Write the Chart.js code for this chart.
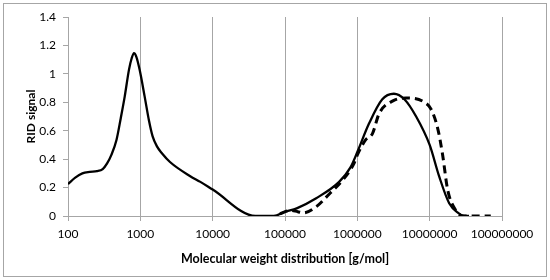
<!DOCTYPE html>
<html>
<head>
<meta charset="utf-8">
<script src="https://cdn.jsdelivr.net/npm/chart.js@4"></script>
<style>
  html,body{margin:0;padding:0;background:#fff}
  #wrap{width:550px;height:280px}
</style>
</head>
<body>
<div id="wrap"><canvas id="c" width="550" height="280"></canvas></div>
<script>
/* ─ data ─ */
const xTicks=[100,1000,10000,100000,1000000,10000000,100000000];
const yTicks=[0,0.2,0.4,0.6,0.8,1,1.2,1.4];

// solid series (molecular weight, signal)
const solidX=[100,126,158,200,251,302,347,398,468,537,608,697,759,817,881,977,1148,1318,1479,1698,2000,2570,4898,6761,10000,39000,70000,100000,145000,270000,560000,800000,1000000,1450000,2200000,3200000,4500000,6500000,10000000,13500000,18600000,25000000,30000000,35000000];
const solidY=[0.225,0.27,0.30,0.31,0.315,0.33,0.37,0.43,0.535,0.69,0.84,1.03,1.11,1.146,1.12,1.03,0.84,0.67,0.56,0.49,0.44,0.38,0.28,0.24,0.186,0,0,0.03,0.054,0.125,0.24,0.34,0.45,0.65,0.82,0.86,0.82,0.70,0.5,0.28,0.09,0.02,0,0];

// dashed series
const dashX=[85000,120000,150000,180000,270000,410000,620000,900000,1000000,1300000,1620000,2000000,3100000,4700000,8500000,10500000,13000000,15000000,17800000,23000000,29000000,70000000];
const dashY=[0.015,0.04,0.03,0.022,0.065,0.155,0.25,0.37,0.43,0.535,0.58,0.72,0.81,0.83,0.80,0.75,0.61,0.44,0.18,0.04,0,0];

const pts=(xs,ys)=>xs.map((x,i)=>({x,y:ys[i]}));

/* ─ frame plugin ─ */
const frame={
  id:'frame',
  beforeDraw(ch){
    const c=ch.ctx;
    c.save();
    c.strokeStyle='#a6a6a6';c.lineWidth=1;
    c.strokeRect(3.5,3.5,543,273);
    c.restore();
  }
};

Chart.defaults.font.family="Lato,'Open Sans',sans-serif";
Chart.defaults.color='#000';

new Chart(document.getElementById('c'),{
  type:'line',
  data:{datasets:[
    {data:pts(solidX,solidY),borderColor:'#000',borderWidth:2.3,pointRadius:0,cubicInterpolationMode:'monotone',fill:false},
    {data:pts(dashX,dashY),borderColor:'#000',borderWidth:3,borderDash:[8,5],pointRadius:0,cubicInterpolationMode:'monotone',fill:false}
  ]},
  options:{
    responsive:false,animation:false,
    layout:{padding:{left:24,right:48,top:17,bottom:14}},
    plugins:{legend:{display:false},tooltip:{enabled:false}},
    scales:{
      x:{
        type:'logarithmic',min:100,max:100000000,
        afterBuildTicks:s=>{s.ticks=xTicks.map(v=>({value:v}))},
        afterFit:s=>{s.height=50},
        ticks:{font:{size:12},padding:6,maxRotation:0,autoSkip:false,callback:v=>String(v)},
        grid:{color:'#a6a6a6',lineWidth:1,drawTicks:true,tickLength:5},
        border:{color:'#a6a6a6'},
        title:{display:true,text:'Molecular weight distribution [g/mol]',font:{size:12.5,weight:'bold'},padding:{top:0,bottom:0}}
      },
      y:{
        min:0,max:1.4,
        afterBuildTicks:s=>{s.ticks=yTicks.map(v=>({value:v}))},
        afterFit:s=>{s.width=44},
        ticks:{font:{size:12},padding:7,callback:v=>String(+v.toFixed(1))},
        grid:{drawOnChartArea:false,drawTicks:true,tickLength:5,color:'#a6a6a6'},
        border:{color:'#a6a6a6'},
        title:{display:true,text:'RID signal',font:{size:12,weight:'bold'},padding:{top:0,bottom:0}}
      }
    }
  },
  plugins:[frame]
});
</script>
</body>
</html>
